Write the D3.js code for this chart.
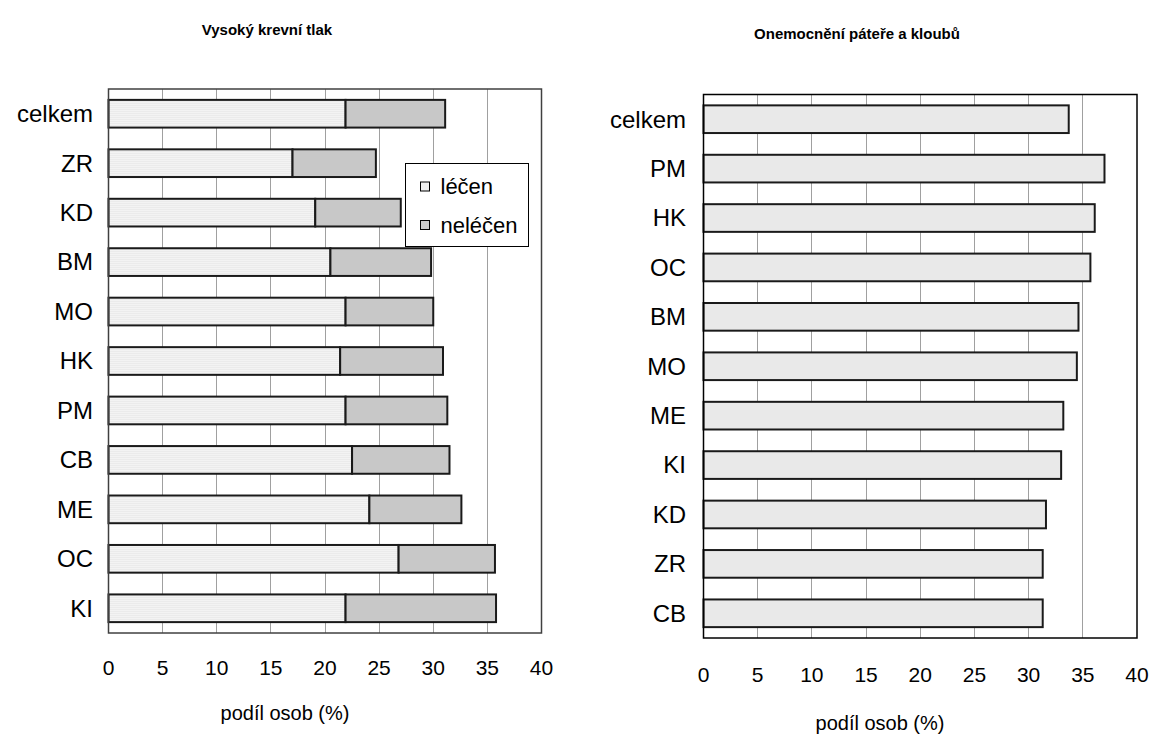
<!DOCTYPE html>
<html>
<head>
<meta charset="utf-8">
<script src="https://cdn.jsdelivr.net/npm/d3@7"></script>
<style>
  body { margin: 0; background: #fff; }
  svg { display: block; font-family: Arial, "Liberation Sans", sans-serif; }
</style>
</head>
<body>
<svg id="chart" width="1152" height="753"></svg>
<script>
// data
const regionsBp = ["celkem", "ZR", "KD", "BM", "MO", "HK", "PM", "CB", "ME", "OC", "KI"];
const lecen = [21.9, 17.0, 19.1, 20.5, 21.9, 21.4, 21.9, 22.5, 24.1, 26.8, 21.9];
const nelecen = [9.2, 7.7, 7.9, 9.3, 8.1, 9.5, 9.4, 9.0, 8.5, 8.9, 13.9];

const regionsSpine = ["celkem", "PM", "HK", "OC", "BM", "MO", "ME", "KI", "KD", "ZR", "CB"];
const spine = [33.7, 37.0, 36.1, 35.7, 34.6, 34.45, 33.2, 33.0, 31.6, 31.3, 31.3];

const xTicks = [0, 5, 10, 15, 20, 25, 30, 35, 40];
const seriesNames = ["léčen", "neléčen"];

const svg = d3.select("#chart");

// fill patterns like the old office chart
const defs = svg.append("defs");
let p1 = defs.append("pattern").attr("id", "fillLecen")
  .attr("width", 2).attr("height", 2).attr("patternUnits", "userSpaceOnUse");
p1.append("rect").attr("width", 2).attr("height", 2).attr("fill", "#f3f3f3");
p1.append("rect").attr("width", 1).attr("height", 1).attr("fill", "#e3e3e3");

let p2 = defs.append("pattern").attr("id", "fillNelecen")
  .attr("width", 2).attr("height", 2).attr("patternUnits", "userSpaceOnUse");
p2.append("rect").attr("width", 2).attr("height", 2).attr("fill", "#f4f4f4");
p2.append("rect").attr("width", 1).attr("height", 1).attr("fill", "#9c9c9c");
p2.append("rect").attr("x", 1).attr("y", 1).attr("width", 1).attr("height", 1).attr("fill", "#9c9c9c");

class HBar {

  constructor(_config) {
    this.config = {
      left: _config.left,
      top: _config.top,
      width: _config.width,
      height: _config.height,
      title: _config.title,
      titleX: _config.titleX,
      titleY: _config.titleY,
      categories: _config.categories,
      series: _config.series,     // array of value arrays, stacked
      fills: _config.fills,
      labelX: _config.labelX,
      tickY: _config.tickY,
      axisTitleX: _config.axisTitleX,
      axisTitleY: _config.axisTitleY,
      borderColor: _config.borderColor || "#000"
    }
    this.initVis();
  }

  initVis() {
    let vis = this;
    let c = vis.config;

    vis.g = svg.append("g").attr("transform", `translate(${c.left},${c.top})`);

    vis.x = d3.scaleLinear().domain([0, 40]).range([0, c.width]);
    vis.y = d3.scaleBand().domain(c.categories).range([0, c.height])
      .paddingInner(0.44).paddingOuter(0.22);

    // vertical gridlines
    vis.g.selectAll(".grid")
      .data(xTicks.slice(1, -1))
      .enter()
      .append("line")
      .attr("x1", d => vis.x(d)).attr("x2", d => vis.x(d))
      .attr("y1", 0).attr("y2", c.height)
      .attr("stroke", "#a0a0a0").attr("stroke-width", 1)
      .attr("shape-rendering", "crispEdges");

    vis.renderVis();
  }

  renderVis() {
    let vis = this;
    let c = vis.config;

    // stacked bars
    c.series.forEach((vals, si) => {
      vis.g.selectAll(".bar" + si)
        .data(c.categories)
        .enter()
        .append("rect")
        .attr("x", (d, i) => {
          let start = 0;
          for (let k = 0; k < si; k++) start += c.series[k][i];
          return vis.x(start);
        })
        .attr("y", d => vis.y(d))
        .attr("width", (d, i) => vis.x(vals[i]) - vis.x(0))
        .attr("height", vis.y.bandwidth())
        .attr("fill", c.fills[si])
        .attr("stroke", "#1a1a1a")
        .attr("stroke-width", 2);
    });

    // plot frame
    vis.g.append("rect")
      .attr("width", c.width).attr("height", c.height)
      .attr("fill", "none")
      .attr("stroke", c.borderColor).attr("stroke-width", 1.5);

    // category labels
    vis.g.selectAll(".cat")
      .data(c.categories)
      .enter()
      .append("text")
      .attr("x", c.labelX - c.left)
      .attr("y", d => vis.y(d) + vis.y.bandwidth() / 2)
      .attr("dy", "0.35em")
      .attr("text-anchor", "end")
      .attr("font-size", 24)
      .attr("fill", "#000")
      .text(d => d);

    // x axis tick labels
    vis.g.selectAll(".tick")
      .data(xTicks)
      .enter()
      .append("text")
      .attr("x", d => vis.x(d))
      .attr("y", c.tickY - c.top)
      .attr("dy", "0.35em")
      .attr("text-anchor", "middle")
      .attr("font-size", 21)
      .text(d => d);

    svg.append("text")
      .attr("x", c.axisTitleX).attr("y", c.axisTitleY)
      .attr("dy", "0.35em")
      .attr("text-anchor", "middle")
      .attr("font-size", 20)
      .text("podíl osob (%)");

    svg.append("text")
      .attr("x", c.titleX).attr("y", c.titleY)
      .attr("dy", "0.35em")
      .attr("text-anchor", "middle")
      .attr("font-size", 15)
      .attr("font-weight", "bold")
      .text(c.title);
  }
}

new HBar({
  left: 108.5, top: 89, width: 433, height: 544,
  title: "Vysoký krevní tlak", titleX: 267, titleY: 30,
  categories: regionsBp,
  series: [lecen, nelecen],
  fills: ["url(#fillLecen)", "url(#fillNelecen)"],
  labelX: 93, tickY: 668,
  axisTitleX: 285, axisTitleY: 713,
  borderColor: "#404040"
});

new HBar({
  left: 703.5, top: 94.5, width: 433.5, height: 543.5,
  title: "Onemocnění páteře a kloubů", titleX: 857, titleY: 34,
  categories: regionsSpine,
  series: [spine],
  fills: ["#e9e9e9"],
  labelX: 686, tickY: 675,
  axisTitleX: 880, axisTitleY: 723,
  borderColor: "#000"
});

// legend of the left chart
const legend = svg.append("g").attr("transform", "translate(405.5,163.5)");
legend.append("rect").attr("width", 123).attr("height", 83)
  .attr("fill", "#fff").attr("stroke", "#000").attr("stroke-width", 1);
const legFills = ["url(#fillLecen)", "url(#fillNelecen)"];
const legItem = legend.selectAll(".leg")
  .data(seriesNames)
  .enter()
  .append("g")
  .attr("transform", (d, i) => `translate(15,${23 + i * 38.5})`);
legItem.append("rect")
  .attr("x", 0).attr("y", -4.5).attr("width", 9).attr("height", 9)
  .attr("fill", (d, i) => legFills[i])
  .attr("stroke", "#000").attr("stroke-width", 1);
legItem.append("text")
  .attr("x", 20).attr("y", 0).attr("dy", "0.35em")
  .attr("font-size", 22)
  .text(d => d);
</script>
</body>
</html>
